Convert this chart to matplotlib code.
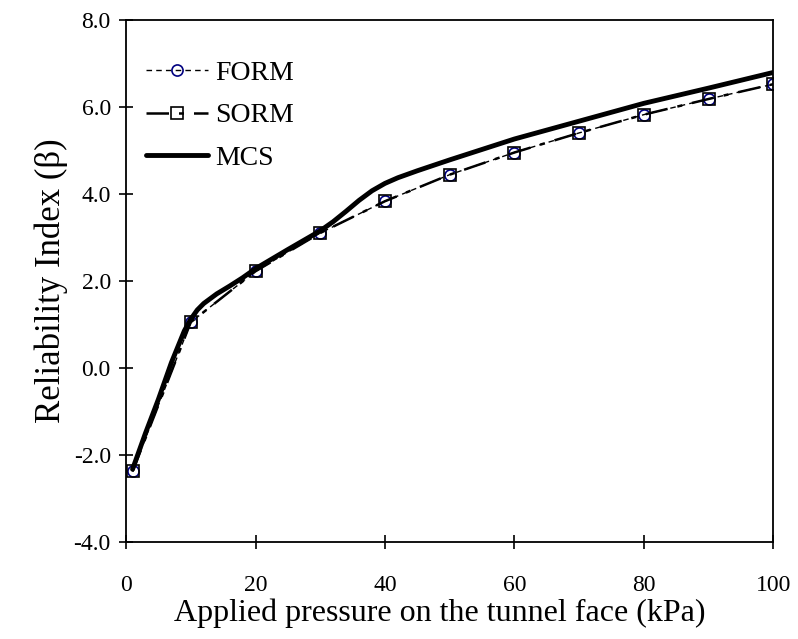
import matplotlib
matplotlib.use("Agg")
import matplotlib.pyplot as plt
from matplotlib.ticker import FormatStrFormatter

plt.rcParams["font.family"] = ["Liberation Serif", "DejaVu Serif"]
plt.rcParams["axes.unicode_minus"] = False

# reliability index vs applied face pressure
pressure = [1, 10, 20, 30, 40, 50, 60, 70, 80, 90, 100]
beta_form = [-2.38, 1.05, 2.22, 3.10, 3.83, 4.44, 4.95, 5.40, 5.82, 6.18, 6.52]
beta_sorm = [-2.38, 1.05, 2.22, 3.10, 3.83, 4.44, 4.95, 5.40, 5.82, 6.18, 6.52]

mcs_x = [1, 3, 5, 7, 9, 10, 11, 12, 14, 16, 18, 20, 25, 30, 32, 34, 36, 38, 40,
         42, 45, 50, 60, 70, 80, 90, 100]
beta_mcs = [-2.33, -1.5, -0.72, 0.12, 0.85, 1.12, 1.33, 1.48, 1.70, 1.88, 2.07, 2.28, 2.72,
            3.15, 3.36, 3.60, 3.85, 4.07, 4.24, 4.37, 4.53, 4.78, 5.26, 5.67, 6.08, 6.43, 6.79]

fig = plt.figure(figsize=(7.98, 6.39), dpi=100)
ax = fig.add_axes([0.158, 0.152, 0.811, 0.817])

ax.plot(pressure, beta_form, color="black", lw=1.0, ls=(0, (4, 3)),
        marker="o", ms=8, mfc="none", mec="#000080", mew=1.2, label="FORM")
ax.plot(pressure, beta_sorm, color="black", lw=1.8, ls=(0, (9, 4, 2, 4)),
        marker="s", ms=9, mfc="none", mec="black", mew=1.2, label="SORM")
ax.plot(mcs_x, beta_mcs, color="black", lw=3.5, solid_capstyle="round",
        solid_joinstyle="round", label="MCS")

ax.set_xlim(0, 100)
ax.set_ylim(-4, 8)
ax.set_xticks(range(0, 101, 20))
ax.set_yticks(range(-4, 9, 2))
ax.yaxis.set_major_formatter(FormatStrFormatter("%.1f"))
ax.tick_params(direction="inout", length=10, width=1.2, labelsize=17, pad=6)
ax.tick_params(axis="x", pad=19)
for s in ax.spines.values():
    s.set_linewidth(1.3)

ax.set_xlabel("Applied pressure on the tunnel face (kPa)", fontsize=23, labelpad=2)
ax.xaxis.label.set_x(0.484)
ax.set_ylabel("Reliability Index (\u03b2)", fontsize=25, labelpad=4)

ax.legend(loc="upper left", frameon=False, fontsize=20, handlelength=2.25,
          handletextpad=0.25, labelspacing=0.62, borderaxespad=0.3,
          bbox_to_anchor=(0.0, 0.96))

fig.savefig("out.png", dpi=100)
